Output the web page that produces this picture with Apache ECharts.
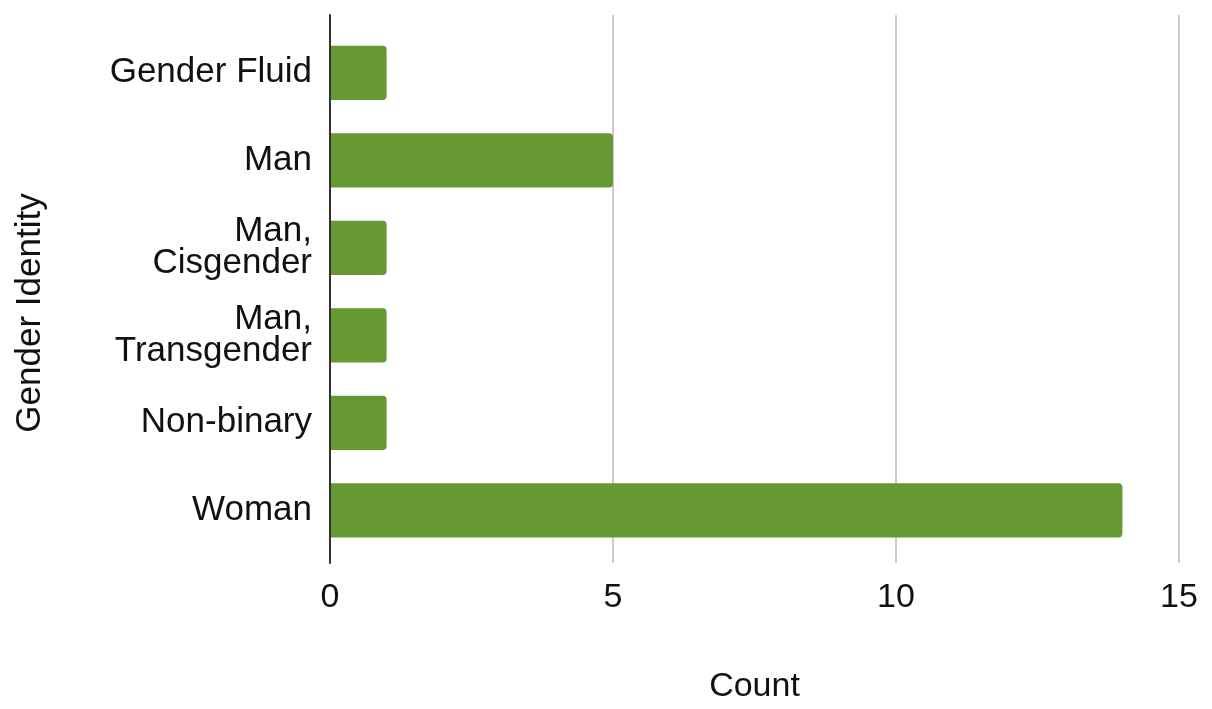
<!DOCTYPE html>
<html>
<head>
<meta charset="utf-8">
<script src="https://cdn.jsdelivr.net/npm/echarts@6/dist/echarts.min.js"></script>
<style>html,body{margin:0;padding:0;background:#fff}#c{width:1212px;height:709px}</style>
</head>
<body>
<div id="c"></div>
<script>
var categories = ["Gender Fluid", "Man", "Man,\nCisgender", "Man,\nTransgender", "Non-binary", "Woman"];
var counts = [1, 5, 1, 1, 1, 14];
var xTicks = [0, 5, 10, 15];

var font = "Arial, 'Liberation Sans', sans-serif";
var txt = '#111';
var chart = echarts.init(document.getElementById('c'));
chart.setOption({
  animation: false,
  backgroundColor: '#fff',
  grid: [
    {left: 330, right: 33, top: 15, bottom: 143},
    {left: 330, right: 33, top: 29, bottom: 155}
  ],
  xAxis: [
    {gridIndex: 0, type: 'value', min: xTicks[0], max: xTicks[xTicks.length-1], interval: 5,
     axisLine: {show: false}, axisTick: {show: false},
     splitLine: {show: true, lineStyle: {color: '#cccccc', width: 2}},
     axisLabel: {fontSize: 34, color: txt, fontFamily: font, margin: 18},
     name: 'Count', nameLocation: 'middle', nameGap: 107,
     nameTextStyle: {fontSize: 34, color: txt, fontFamily: font}},
    {gridIndex: 1, type: 'value', min: 0, max: 15, interval: 5, show: false}
  ],
  yAxis: [
    {gridIndex: 0, type: 'category', data: [''], axisLine: {show: true, lineStyle: {color: '#333', width: 2}},
     axisTick: {show: false}, axisLabel: {show: false}, z: 5},
    {gridIndex: 1, type: 'category', data: categories, inverse: true,
     axisLine: {show: false}, axisTick: {show: false}, splitLine: {show: false},
     axisLabel: {fontSize: 35, color: txt, fontFamily: font, margin: 18, lineHeight: 32},
     name: 'Gender Identity', nameLocation: 'middle', nameGap: 282, nameRotate: 90,
     nameTextStyle: {fontSize: 35, color: txt, fontFamily: font, padding: [0, 43, 0, 0]}}
  ],
  series: [{
    type: 'bar', xAxisIndex: 1, yAxisIndex: 1, data: counts,
    barCategoryGap: '38%',
    itemStyle: {color: '#669933', borderRadius: [0, 4, 4, 0]},
    z: 3
  }]
});
</script>
</body>
</html>
